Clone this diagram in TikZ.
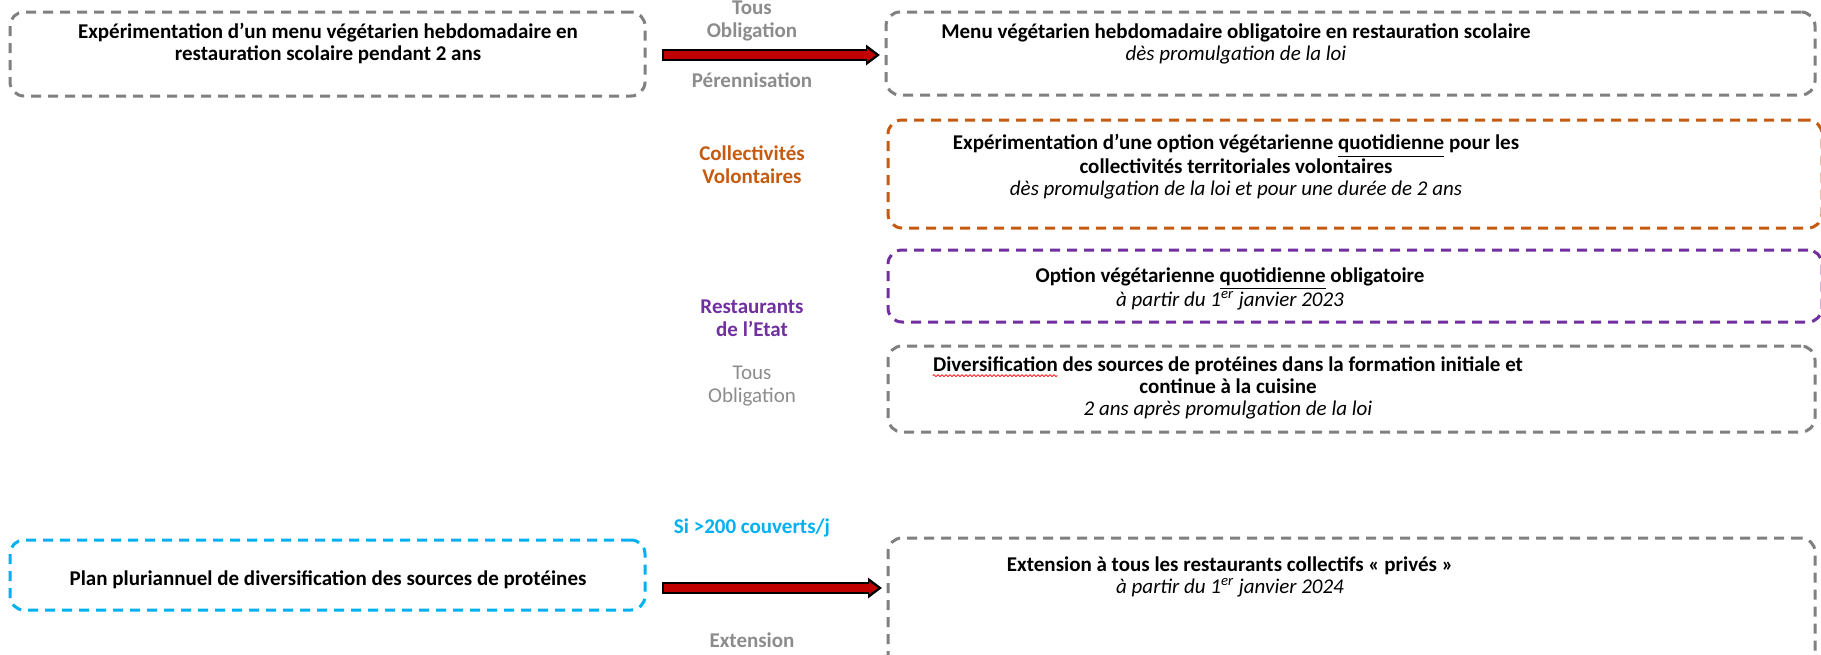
\documentclass[tikz,border=0pt]{standalone}
\usepackage{fontspec}
\setmainfont{Carlito}
\usetikzlibrary{arrows.meta}
\usetikzlibrary{positioning}
\usetikzlibrary{decorations.pathmorphing}
\definecolor{boxgray}{RGB}{128,128,128}
\definecolor{labgray}{RGB}{140,140,140}
\definecolor{volorange}{RGB}{197,90,17}
\definecolor{etatpurple}{RGB}{112,48,160}
\definecolor{plancyan}{RGB}{0,176,240}
\definecolor{arrowred}{RGB}{192,0,0}
\newlength\wavelen

\begin{document}
\settowidth{\wavelen}{\fontsize{10.5}{11}\selectfont\bfseries Diversification}%
\begin{tikzpicture}[line cap=round,line join=round,x=0.5pt,y=-0.5pt,
  dbox/.style={draw=boxgray,line width=1.5pt,line cap=butt,dash pattern=on 5pt off 3.5pt,rounded corners=7pt,inner sep=0pt,outer sep=0pt},
  btext/.style={align=center,font=\fontsize{10.5}{11}\selectfont,text=black,inner sep=0pt},
  lab/.style={align=center,font=\fontsize{10.5}{11.5}\selectfont\bfseries,inner sep=0pt},
  barout/.style={line width=6pt,black,line cap=butt,shorten >=3pt,-{Triangle[length=7pt,width=10pt]}},
  barin/.style={line width=3.6pt,arrowred,line cap=butt,shorten <=1pt,shorten >=5pt,-{Triangle[length=4.5pt,width=6pt]}},
  spell/.style={red,line width=0.4pt,line cap=butt,decorate,decoration={snake,amplitude=0.5pt,segment length=2pt}}]
\useasboundingbox (0,0) rectangle (1821,654);
\clip (0,0) rectangle (1821,654);
% boxes
\node[dbox,minimum width=464.5pt,minimum height=41.5pt] (menu) at (1350.5,53.5) {};
\node[dbox,minimum width=317.5pt,minimum height=42pt] (expo) at (327.5,54) {};
\node[dbox,draw=volorange,minimum width=467pt,minimum height=54pt] (collec) at (1355,174) {};
\node[dbox,draw=etatpurple,minimum width=467pt,minimum height=36pt] (etat) at (1355,286) {};
\node[dbox,minimum width=463.5pt,minimum height=43pt] (forma) at (1351.5,389) {};
\node[dbox,minimum width=463.5pt,minimum height=70pt] (prive) at (1351.5,608) {};
\node[dbox,draw=plancyan,minimum width=317.5pt,minimum height=35pt] (plan) at (327.5,575) {};
% box texts
\node[btext] (expotxt) at (328,44) {\textbf{Expérimentation d’un menu végétarien hebdomadaire en}\\\textbf{restauration scolaire pendant 2 ans}};
\node[btext] (menutxt) at (1236,44) {\textbf{Menu végétarien hebdomadaire obligatoire en restauration scolaire}\\\textit{dès promulgation de la loi}};
\node[btext] (collectxt) at (1236,167) {\textbf{Expérimentation d’une option végétarienne \underline{quotidienne} pour les}\\\textbf{collectivités territoriales volontaires}\\\textit{dès promulgation de la loi et pour une durée de 2 ans}};
\node[btext] (etattxt) at (1230,289) {\textbf{Option végétarienne \underline{quotidienne} obligatoire}\\\textit{à partir du 1\textsuperscript{er} janvier 2023}};
\node[btext] (formatxt) at (1228,388) {\textbf{Diversification des sources de protéines dans la formation initiale et}\\\textbf{continue à la cuisine}\\\textit{2 ans après promulgation de la loi}};
\node[btext] (privetxt) at (1230,577) {\textbf{Extension à tous les restaurants collectifs « privés »}\\\textit{à partir du 1\textsuperscript{er} janvier 2024}};
\node[btext] (plantxt) at (328,580) {\textbf{Plan pluriannuel de diversification des sources de protéines}};
\draw[spell] ([yshift=-9.6pt]formatxt.north west) -- ++(\wavelen,0);
% middle labels
\node[lab,text=labgray] (tous1) at (752,21) {Tous\\Obligation};
\node[lab,text=labgray] (peren) at (752,80) {Pérennisation};
\node[lab,text=volorange] (volont) at (752,165) {Collectivités\\Volontaires};
\node[lab,text=etatpurple] (restau) at (752,318) {Restaurants\\de l’Etat};
\node[lab,text=labgray,font=\fontsize{10.5}{11.5}\selectfont] (tous2) at (752,386) {Tous\\Obligation};
\node[lab,text=plancyan] (seuil) at (752,528) {Si >200 couverts/j};
\node[lab,text=labgray] (extens) at (752,640) {Extension};
% arrows
\coordinate (s1) at ([xshift=8.5pt,yshift=-0.5pt]expo.east);
\coordinate (e1) at (menu.west |- s1);
\coordinate (s2) at ([xshift=8.5pt,yshift=-6.5pt]plan.east);
\coordinate (e2) at (prive.west |- s2);
\draw[barout] (s1) -- (e1);
\draw[barin] (s1) -- (e1);
\draw[barout] (s2) -- (e2);
\draw[barin] (s2) -- (e2);
\end{tikzpicture}
\end{document}
